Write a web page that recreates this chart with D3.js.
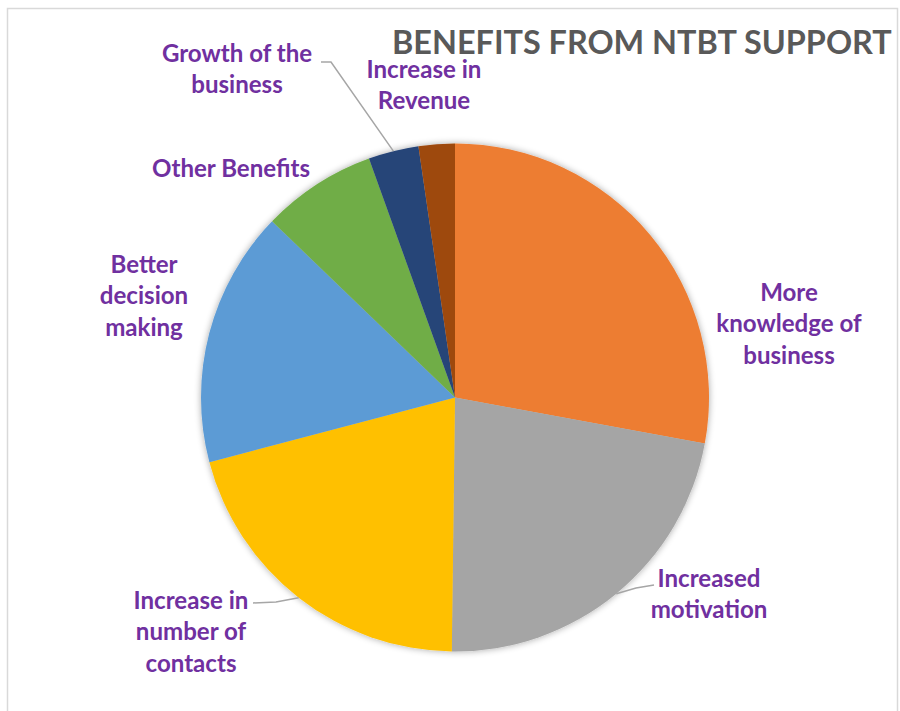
<!DOCTYPE html>
<html><head><meta charset="utf-8">
<script src="https://cdn.jsdelivr.net/npm/d3@7"></script>
<style>html,body{margin:0;padding:0;background:#fff;}svg{display:block;}</style>
</head><body>
<script>
const categories = ["More knowledge of business","Increased motivation","Increase in number of contacts","Better decision making","Other Benefits","Growth of the business","Increase in Revenue"];
const values = [27.9, 22.3, 20.7, 16.3, 7.3, 3.2, 2.3];
const colors = ["#ED7D31","#A5A5A5","#FFC000","#5B9BD5","#70AD47","#264478","#9E480E"];
const labelLines = [["More","knowledge of","business"],["Increased","motivation"],["Increase in","number of","contacts"],["Better","decision","making"],["Other Benefits"],["Growth of the","business"],["Increase in","Revenue"]];
const title = "BENEFITS FROM NTBT SUPPORT";

const W = 900, H = 711;
const cx = 455, cy = 397.5, r = 254;
const font = "Lato, 'Open Sans', sans-serif";

const svg = d3.select("body").append("svg").attr("width", W).attr("height", H);
const defs = svg.append("defs");
const f = defs.append("filter").attr("id","sh").attr("x","-20%").attr("y","-20%").attr("width","140%").attr("height","140%");
f.append("feGaussianBlur").attr("in","SourceAlpha").attr("stdDeviation",3.5).attr("result","b");
f.append("feOffset").attr("in","b").attr("dx",0).attr("dy",0).attr("result","o");
f.append("feComponentTransfer").attr("in","o").attr("result","s").append("feFuncA").attr("type","linear").attr("slope",0.35);
const m = f.append("feMerge"); m.append("feMergeNode").attr("in","s"); m.append("feMergeNode").attr("in","SourceGraphic");

svg.append("rect").attr("x",7.5).attr("y",8.5).attr("width",890).attr("height",740)
  .attr("fill","#fff").attr("stroke","#d9d9d9").attr("stroke-width",1.5);

const pie = d3.pie().sort(null).value(d => d)(values);
const arc = d3.arc().innerRadius(0).outerRadius(r);
const g = svg.append("g").attr("transform",`translate(${cx},${cy})`);
g.append("g").attr("filter","url(#sh)").selectAll("path").data(pie).join("path")
  .attr("d", arc).attr("fill",(d,i)=>colors[i]);

// title
const t = svg.append("text").attr("x",392).attr("y",54).attr("font-family",font)
  .attr("font-weight","bold").attr("font-size",28).attr("fill","#595959").text(title);
const tw = t.node().getComputedTextLength();
t.attr("font-size", 28*500/tw);

// labels (layout positions)
const labelPos = [[789,301],[709,587],[191,609],[144,273],[231,177],[237,62],[424,78]];
const lh = 31.3;
const lab = svg.append("g");
const texts = lab.selectAll("text").data(labelLines).join("text")
  .attr("font-family",font).attr("font-weight","bold").attr("font-size",20)
  .attr("fill","#7030A0").attr("text-anchor","middle")
  .attr("x",(d,i)=>labelPos[i][0]).attr("y",(d,i)=>labelPos[i][1]);
texts.selectAll("tspan").data(d=>d).join("tspan")
  .attr("x",function(){return this.parentNode.getAttribute("x");})
  .attr("dy",(d,j)=>j===0?0:lh).text(d=>d);
// fit font size: "Other Benefits" ~158px wide
const ob = texts.filter((d,i)=>i===4).node().getComputedTextLength();
texts.attr("font-size", 20*158/ob);

// leader lines from slice mid-angles
function edgePoint(d){const a=(d.startAngle+d.endAngle)/2;return [cx+r*Math.sin(a), cy-r*Math.cos(a)];}
const leaders = [
  {i:5, pts:[[321,62],[331,62]]},
  {i:2, pts:[[253,603],[276,602]]},
  {i:1, pts:[[654,585],[636,588]]}
];
const line = d3.line().curve(d3.curveLinear);
leaders.forEach(L=>{
  const p = edgePoint(pie[L.i]);
  svg.append("path").attr("d", line(L.pts.concat([p]))).attr("fill","none")
    .attr("stroke","#A6A6A6").attr("stroke-width",1.5);
});
</script>
</body></html>
